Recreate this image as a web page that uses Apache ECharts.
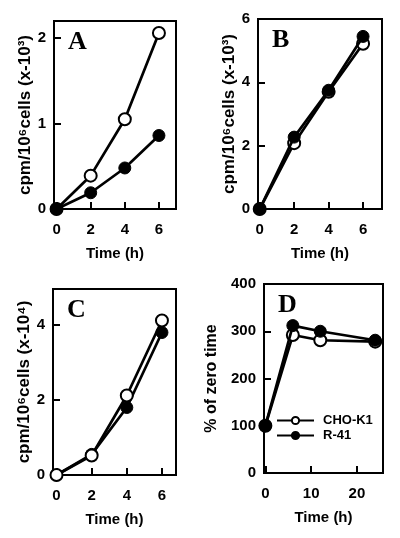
<!DOCTYPE html>
<html><head><meta charset="utf-8">
<script src="https://cdn.jsdelivr.net/npm/echarts@6/dist/echarts.min.js"></script>
<style>html,body{margin:0;padding:0;background:#fff}#c{width:400px;height:538px}</style>
</head><body><div id="c"></div>
<script>
var timesABC = [0, 2, 4, 6];
var timesD = [0, 6, 12, 24];
var aOpen = [0, 0.39, 1.05, 2.06];
var aFilled = [0, 0.19, 0.48, 0.86];
var bOpen = [0, 2.08, 3.7, 5.22];
var bFilled = [0, 2.27, 3.75, 5.45];
var cOpen = [0, 0.52, 2.12, 4.12];
var cFilled = [0, 0.55, 1.8, 3.8];
var dOpen = [100, 292, 281, 278];
var dFilled = [100, 312, 300, 281];
var xTicksABC = [0, 2, 4, 6];
var xTicksD = [0, 10, 20];
var yTicksA = [0, 1, 2];
var yTicksB = [0, 2, 4, 6];
var yTicksC = [0, 2, 4];
var yTicksD = [0, 100, 200, 300, 400];
var seriesNames = ['CHO-K1', 'R-41'];
var panelLetters = ['A', 'B', 'C', 'D'];
var yNames = ['cpm/10\u2076cells (x-10\u00b3)', 'cpm/10\u2076cells (x-10\u00b3)', 'cpm/10\u2076cells (x-10\u2074)', '% of zero time'];
var xName = 'Time (h)';

var FONT = '"Liberation Sans", Arial, sans-serif';
var grids = [
  {left: 54, top: 21, width: 122, height: 188},
  {left: 258, top: 19, width: 124, height: 190},
  {left: 53, top: 289, width: 123, height: 186},
  {left: 264, top: 284, width: 119, height: 189}
];
var xRanges = [[-0.15, 7], [-0.1, 7.1], [-0.2, 6.8], [-0.3, 25.7]];
var yRanges = [[0, 2.2], [0, 6], [0, 4.96], [0, 400]];
var xTickSets = [xTicksABC, xTicksABC, xTicksABC, xTicksD];
var yTickSets = [yTicksA, yTicksB, yTicksC, yTicksD];
var xData = [timesABC, timesABC, timesABC, timesD];
var openData = [aOpen, bOpen, cOpen, dOpen];
var filledData = [aFilled, bFilled, cFilled, dFilled];
var openOnTop = [false, false, true, false];
var yNameGaps = [20, 20, 20, 44];

function pairs(xs, ys) { return xs.map(function (x, i) { return [x, ys[i]]; }); }

var option = {
  animation: false,
  backgroundColor: '#fff',
  grid: [], xAxis: [], yAxis: [], series: [], graphic: [],
  legend: {
    data: seriesNames,
    orient: 'vertical',
    left: 271, top: 409,
    itemWidth: 37, itemHeight: 9, itemGap: 2,
    selectedMode: false,
    textStyle: {fontFamily: FONT, fontWeight: 'bold', fontSize: 13, lineHeight: 12, color: '#000', padding: [0, 0, 0, 4]}
  }
};

grids.forEach(function (g, i) {
  option.grid.push({left: g.left, top: g.top, width: g.width, height: g.height, show: true,
    borderColor: '#000', borderWidth: 2, backgroundColor: 'transparent', containLabel: false});
  option.xAxis.push({
    type: 'value', gridIndex: i, min: xRanges[i][0], max: xRanges[i][1],
    name: xName, nameLocation: 'middle', nameGap: 37,
    nameTextStyle: {fontFamily: FONT, fontWeight: 'bold', fontSize: 15, color: '#000'},
    axisLine: {show: true, onZero: false, lineStyle: {color: '#000', width: 2}},
    axisTick: {show: true, inside: true, length: 7, customValues: xTickSets[i], lineStyle: {color: '#000', width: 2}},
    axisLabel: {customValues: xTickSets[i], margin: 13, fontFamily: FONT, fontWeight: 'bold', fontSize: 15, color: '#000'},
    splitLine: {show: false}
  });
  option.yAxis.push({
    type: 'value', gridIndex: i, min: yRanges[i][0], max: yRanges[i][1],
    name: yNames[i], nameLocation: 'middle', nameGap: yNameGaps[i], nameRotate: 90,
    nameTextStyle: {fontFamily: FONT, fontWeight: 'bold', fontSize: i === 3 ? 16 : 17, color: '#000'},
    axisLine: {show: true, onZero: false, lineStyle: {color: '#000', width: 2}},
    axisTick: {show: true, inside: true, length: 7, customValues: yTickSets[i], lineStyle: {color: '#000', width: 2}},
    axisLabel: {customValues: yTickSets[i], margin: 8, fontFamily: FONT, fontWeight: 'bold', fontSize: 15, color: '#000'},
    splitLine: {show: false}
  });
  var zOpen = openOnTop[i] ? 4 : 3, zFilled = openOnTop[i] ? 3 : 4;
  option.series.push({
    type: 'line', name: seriesNames[0], xAxisIndex: i, yAxisIndex: i,
    data: pairs(xData[i], openData[i]), clip: false, z: zOpen,
    symbol: 'circle', symbolSize: 12,
    lineStyle: {color: '#000', width: 2.7},
    itemStyle: {color: '#fff', borderColor: '#000', borderWidth: 2}
  });
  option.series.push({
    type: 'line', name: seriesNames[1], xAxisIndex: i, yAxisIndex: i,
    data: pairs(xData[i], filledData[i]), clip: false, z: zFilled,
    symbol: 'circle', symbolSize: 12,
    lineStyle: {color: '#000', width: 2.7},
    itemStyle: {color: '#000', borderColor: '#000', borderWidth: 1}
  });
  option.graphic.push({
    type: 'text', left: g.left + 14, top: g.top + 8,
    style: {text: panelLetters[i], fontFamily: '"Liberation Serif", "Times New Roman", serif', fontWeight: 'bold', fontSize: 26, fill: '#000'}
  });
});

var chart = echarts.init(document.getElementById('c'), null, {renderer: 'canvas'});
chart.setOption(option);
</script>
</body></html>
